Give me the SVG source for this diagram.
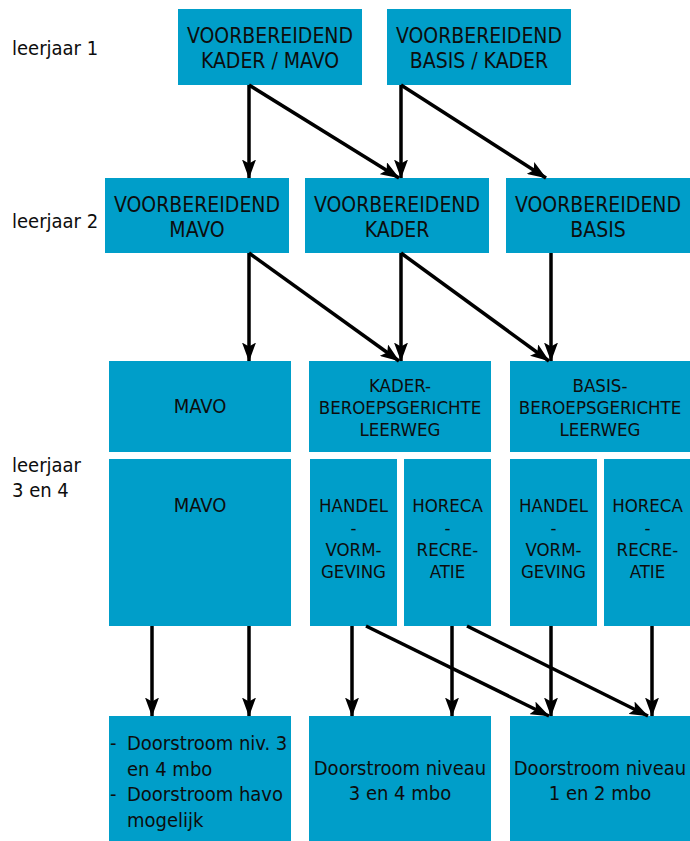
<svg xmlns="http://www.w3.org/2000/svg" width="690" height="841" viewBox="0 0 690 841">
<style>
.box{fill:#009ec9}
text{font-family:"DejaVu Sans Condensed","Liberation Sans Narrow","Liberation Sans",sans-serif;fill:#0d0d0d}
.t{font-size:21px;text-anchor:middle}
.b{font-size:20px;text-anchor:middle}
.s{font-size:18.5px;text-anchor:middle}
.l{font-size:20px}
.c line{stroke:#000;stroke-width:3.5;marker-end:url(#ah)}
</style>
<defs>
<marker id="ah" viewBox="0 0 19 14" refX="18.5" refY="7" markerWidth="19" markerHeight="14" markerUnits="userSpaceOnUse" orient="auto">
<path d="M0,0 L19,7 L0,14 L4,7 Z" fill="#000"/>
</marker>
</defs>
<g id="labels">
<text class="l" x="12" y="55">leerjaar 1</text>
<text class="l" x="12" y="228">leerjaar 2</text>
<text class="l" x="12" y="472">leerjaar</text>
<text class="l" x="12" y="497">3 en 4</text>
</g>
<g id="vb-kader-mavo"><rect class="box" x="178" y="9" width="184" height="76"/>
<text class="t" x="270" y="43">VOORBEREIDEND</text><text class="t" x="270" y="68">KADER / MAVO</text></g>
<g id="vb-basis-kader"><rect class="box" x="387" y="9" width="184" height="76"/>
<text class="t" x="479" y="43">VOORBEREIDEND</text><text class="t" x="479" y="68">BASIS / KADER</text></g>
<g id="vb-mavo"><rect class="box" x="105" y="178" width="184" height="75"/>
<text class="t" x="197" y="212">VOORBEREIDEND</text><text class="t" x="197" y="237">MAVO</text></g>
<g id="vb-kader"><rect class="box" x="305" y="178" width="184" height="75"/>
<text class="t" x="397" y="212">VOORBEREIDEND</text><text class="t" x="397" y="237">KADER</text></g>
<g id="vb-basis"><rect class="box" x="506" y="178" width="184" height="75"/>
<text class="t" x="598" y="212">VOORBEREIDEND</text><text class="t" x="598" y="237">BASIS</text></g>
<g id="mavo-top"><rect class="box" x="109" y="361" width="182" height="91"/>
<text class="b" x="200" y="413">MAVO</text></g>
<g id="kader-bl"><rect class="box" x="309" y="361" width="182" height="91"/>
<text class="s" x="400" y="392">KADER-</text><text class="s" x="400" y="414">BEROEPSGERICHTE</text><text class="s" x="400" y="436">LEERWEG</text></g>
<g id="basis-bl"><rect class="box" x="510" y="361" width="180" height="91"/>
<text class="s" x="600" y="392">BASIS-</text><text class="s" x="600" y="414">BEROEPSGERICHTE</text><text class="s" x="600" y="436">LEERWEG</text></g>
<g id="mavo-bottom"><rect class="box" x="109" y="459" width="182" height="167"/>
<text class="b" x="200" y="512">MAVO</text></g>
<g id="kader-handel"><rect class="box" x="310" y="459" width="87" height="167"/>
<text class="s" x="353.5" y="512">HANDEL</text><text class="s" x="353.5" y="534">-</text><text class="s" x="353.5" y="556">VORM-</text><text class="s" x="353.5" y="578">GEVING</text></g>
<g id="kader-horeca"><rect class="box" x="404" y="459" width="87" height="167"/>
<text class="s" x="447.5" y="512">HORECA</text><text class="s" x="447.5" y="534">-</text><text class="s" x="447.5" y="556">RECRE-</text><text class="s" x="447.5" y="578">ATIE</text></g>
<g id="basis-handel"><rect class="box" x="510" y="459" width="87" height="167"/>
<text class="s" x="553.5" y="512">HANDEL</text><text class="s" x="553.5" y="534">-</text><text class="s" x="553.5" y="556">VORM-</text><text class="s" x="553.5" y="578">GEVING</text></g>
<g id="basis-horeca"><rect class="box" x="604" y="459" width="86" height="167"/>
<text class="s" x="647.5" y="512">HORECA</text><text class="s" x="647.5" y="534">-</text><text class="s" x="647.5" y="556">RECRE-</text><text class="s" x="647.5" y="578">ATIE</text></g>
<g id="out-mavo"><rect class="box" x="109" y="716" width="182" height="125"/>
<text class="l" x="110" y="750">-</text><text class="l" x="127" y="750">Doorstroom niv. 3</text>
<text class="l" x="127" y="776">en 4 mbo</text>
<text class="l" x="110" y="801">-</text><text class="l" x="127" y="801">Doorstroom havo</text>
<text class="l" x="127" y="827">mogelijk</text></g>
<g id="out-34"><rect class="box" x="309" y="716" width="182" height="125"/>
<text class="b" x="400" y="775">Doorstroom niveau</text><text class="b" x="400" y="800">3 en 4 mbo</text></g>
<g id="out-12"><rect class="box" x="510" y="716" width="180" height="125"/>
<text class="b" x="600" y="775">Doorstroom niveau</text><text class="b" x="600" y="800">1 en 2 mbo</text></g>
<g id="connectors" class="c">
<line x1="249" y1="85" x2="249" y2="178"/>
<line x1="249" y1="85" x2="399" y2="178"/>
<line x1="401" y1="85" x2="401" y2="178"/>
<line x1="401" y1="85" x2="546" y2="178"/>
<line x1="249" y1="253" x2="249" y2="361"/>
<line x1="249" y1="253" x2="399" y2="361"/>
<line x1="401" y1="253" x2="401" y2="361"/>
<line x1="401" y1="253" x2="549" y2="361"/>
<line x1="551" y1="253" x2="551" y2="361"/>
<line x1="152" y1="626" x2="152" y2="716"/>
<line x1="249" y1="626" x2="249" y2="716"/>
<line x1="352" y1="626" x2="352" y2="716"/>
<line x1="366" y1="626" x2="549" y2="716"/>
<line x1="452" y1="626" x2="452" y2="716"/>
<line x1="467" y1="626" x2="648" y2="716"/>
<line x1="551" y1="626" x2="551" y2="716"/>
<line x1="652" y1="626" x2="652" y2="716"/>
</g>
</svg>
